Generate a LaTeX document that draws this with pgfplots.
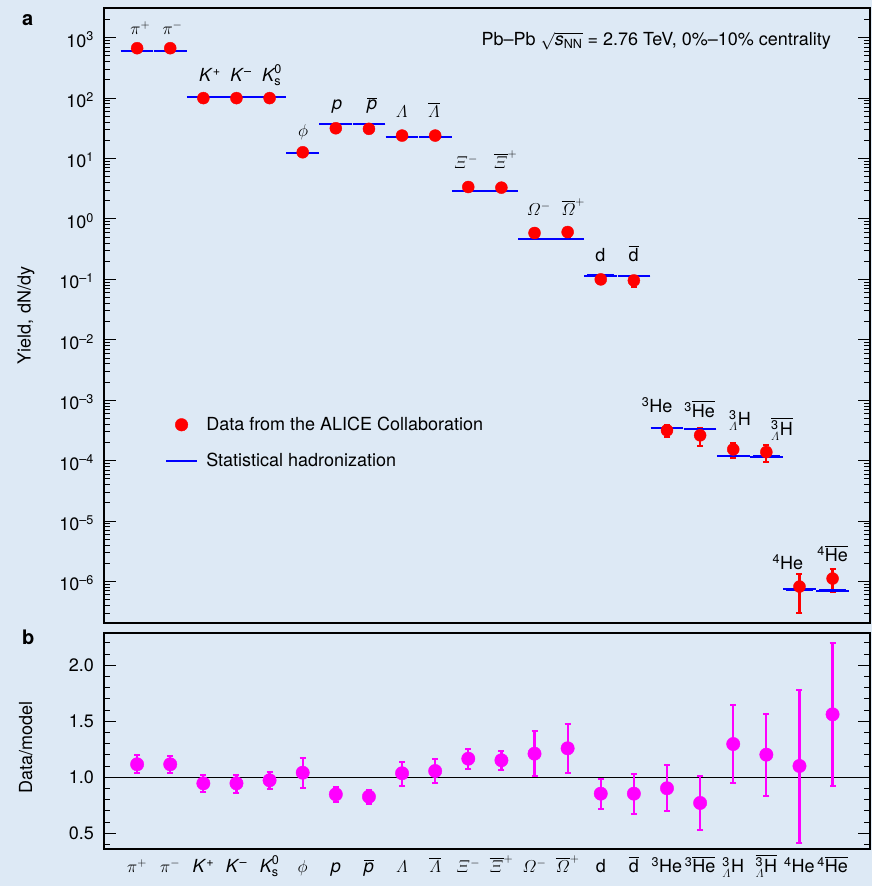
\documentclass[border=0pt]{standalone}
\usepackage{amsmath}
\usepackage{fontspec}
\setmainfont{TeX Gyre Heros}
\usepackage{pgfplots}
\usepackage{pgfplotstable}
\pgfplotsset{compat=1.18}

\definecolor{panelbg}{RGB}{221,233,245}
\definecolor{alicered}{RGB}{255,0,0}
\definecolor{ratiomag}{RGB}{255,0,255}
\definecolor{modelblue}{RGB}{0,0,255}

% measured yields (y, +err, -err) and statistical-hadronization model (m)
\pgfplotstableread{
i  y        ep       em       m
0  670      49       49       608
1  670      49       49       608
2  100      8        8        105
3  100      8        8        105
4  100      7.7      7.7      103
5  12.7     1.6      1.6      12.2
6  31.7     2.4      2.4      37
7  31.0     2.4      2.4      37
8  24.0     2.5      2.5      22.9
9  24.0     2.4      2.4      22.9
10 3.38     0.25     0.25     2.87
11 3.30     0.24     0.24     2.87
12 0.586    0.10     0.10     0.471
13 0.608    0.105    0.105    0.471
14 0.100    0.016    0.016    0.116
15 0.096    0.020    0.020    0.115
16 3.18e-4  0.72e-4  0.72e-4  3.47e-4
17 2.63e-4  0.84e-4  0.86e-4  3.39e-4
18 1.54e-4  0.42e-4  0.42e-4  1.18e-4
19 1.39e-4  0.43e-4  0.43e-4  1.17e-4
20 8.26e-7  5.0e-7   5.2e-7   7.4e-7
21 1.12e-6  0.49e-6  0.45e-6  7.1e-7
}\yields

% data/model ratios
\pgfplotstableread{
i  r      ep     em
0  1.116  0.083  0.080
1  1.116  0.077  0.080
2  0.946  0.077  0.075
3  0.946  0.077  0.083
4  0.973  0.074  0.075
5  1.041  0.129  0.134
6  0.848  0.063  0.068
7  0.827  0.060  0.068
8  1.036  0.103  0.111
9  1.056  0.105  0.110
10 1.166  0.087  0.089
11 1.152  0.083  0.087
12 1.211  0.205  0.202
13 1.259  0.214  0.218
14 0.854  0.134  0.140
15 0.854  0.176  0.182
16 0.902  0.205  0.206
17 0.771  0.238  0.244
18 1.297  0.346  0.348
19 1.202  0.366  0.366
20 1.101  0.681  0.688
21 1.562  0.640  0.637
}\ratios

% minor ticks 2..9 in every decade of the log axis
\def\logminors{}
\foreach \k in {-7,...,3}{\foreach \j in {2,...,9}{\xdef\logminors{\logminors\j e\k,}}}
\xdef\logminors{\logminors 1e4}

\pgfplotsset{
  panel/.style={
    scale only axis,
    xmin=-1, xmax=22.13,
    tick align=inside,
    major tick length=12bp, minor tick length=6bp,
    tick style={black, line width=1bp},
    axis line style={line width=1.5bp},
    yticklabel style={xshift=-4bp},
  },
  datadot legend/.style={legend image code/.code={\draw[##1] plot coordinates {(15.5bp,0bp)};}},
  modelbar legend/.style={legend image code/.code={\draw[##1] (0bp,0bp) -- (31bp,0bp);}},
}

\begin{document}
\fontsize{18bp}{21bp}\selectfont
\begin{tikzpicture}
\fill[panelbg] (0,0) rectangle (872bp,886bp);

% ---- panel a: yields ----
\begin{axis}[panel,
  at={(104bp,263bp)}, anchor=south west,
  width=766bp, height=615bp,
  ymode=log, log basis y=10,
  ymin=2.06e-7, ymax=3100,
  xtick=\empty,
  ytick={1e-6,1e-5,1e-4,1e-3,1e-2,1e-1,1,10,100,1000},
  minor ytick/.expanded={\logminors},
  yticklabel={\pgfmathtruncatemacro{\ex}{round(\tick)}10\textsuperscript{\ifnum\ex<0 \textendash\the\numexpr-\ex\relax\else\ex\fi}},
  yticklabel style={yshift=-2bp},
  ylabel={Yield, dN/dy},
  ylabel style={at={(axis description cs:-0.1018,0.5)}, anchor=center},
  legend cell align=left,
  legend style={at={(0.0796,0.339)}, anchor=north west, draw=none, fill=none,
    inner sep=0pt, row sep=16bp, column sep=6.3bp},
]
\addlegendimage{only marks, mark=*, mark size=6.3bp, alicered, datadot legend}
\addlegendentry{Data from the ALICE Collaboration}
\addlegendimage{modelblue, line width=1.8bp, modelbar legend}
\addlegendentry{Statistical hadronization}

\addplot[only marks, mark=*, mark size=6bp, alicered, forget plot,
  error bars/.cd, y dir=both, y explicit,
  error bar style={line width=2.2bp, alicered},
  error mark options={rotate=90, alicered, line width=2bp, mark size=3bp}]
  table[x=i, y=y, y error plus=ep, y error minus=em]{\yields};

\addplot[modelblue, draw=none, mark=none, forget plot,
  error bars/.cd, x dir=both, x fixed=0.41,
  error bar style={draw=modelblue, line width=2.2bp},
  error mark options={modelblue, line width=2bp, mark size=2.8bp}]
  table[x=i, y=m]{\yields};
\end{axis}

% ---- panel b: data/model ----
\begin{axis}[panel,
  at={(104bp,37bp)}, anchor=south west,
  width=766bp, height=216bp,
  ymin=0.36, ymax=2.288,
  xtick={0,...,21},
  xticklabels={$\pi^{+}$, $\pi^{-}$, \textit{K}\textsuperscript{+}, \textit{K}\textsuperscript{\textendash},
    $\textit{K}^{\text{0}}_{\text{s}}$, $\phi$, \textit{p}, $\overline{\textit{p}}$,
    $\varLambda$, $\overline{\varLambda}$, $\varXi^{-}$, $\overline{\varXi}^{+}$,
    $\varOmega^{-}$, $\overline{\varOmega}^{+}$, d, $\overline{\text{d}}$,
    \textsuperscript{3}He, \textsuperscript{3}$\overline{\text{He}}$,
    ${}^{\text{3}}_{\varLambda}\text{H}$, $\overline{{}^{\text{3}}_{\varLambda}\text{H}}$,
    \textsuperscript{4}He, \textsuperscript{4}$\overline{\text{He}}$},
  xtick style={draw=none},
  xticklabel style={anchor=base, yshift=-23.7bp},
  ytick={0.5,1,1.5,2},
  minor ytick={0.4,0.6,0.7,0.8,0.9,1.1,1.2,1.3,1.4,1.6,1.7,1.8,1.9,2.1,2.2},
  yticklabel style={/pgf/number format/fixed, /pgf/number format/fixed zerofill,
    /pgf/number format/precision=1, /pgf/number format/assume math mode=true},
  ylabel={Data/model},
  ylabel style={at={(axis description cs:-0.1021,0.47)}, anchor=center},
]
\addplot[black, line width=0.8bp, forget plot] coordinates {(-1,1) (22.13,1)};
\addplot[only marks, mark=*, mark size=6.7bp, ratiomag,
  error bars/.cd, y dir=both, y explicit,
  error bar style={line width=2.2bp, ratiomag},
  error mark options={rotate=90, ratiomag, line width=2bp, mark size=3bp}]
  table[x=i, y=r, y error plus=ep, y error minus=em]{\ratios};
\end{axis}

% panel letters and header
\node[anchor=base west, font=\fontsize{20bp}{24bp}\selectfont\bfseries] at (16bp,860bp) {a};
\node[anchor=base west, font=\fontsize{20bp}{24bp}\selectfont\bfseries] at (16bp,241bp) {b};
\node[anchor=base east] at (837bp,840.3bp)
  {Pb\textendash Pb $\sqrt{\textit{s}_{\text{NN}}}$ = 2.76 TeV, 0\%\textendash10\% centrality};

% particle names above the yields
\begin{scope}[every node/.style={anchor=base, inner sep=0pt}]
\node at (140.3bp,851bp) {$\pi^{+}$};
\node at (172.5bp,851bp) {$\pi^{-}$};
\node at (210bp,804.3bp) {\textit{K}\textsuperscript{+}};
\node at (241bp,804.3bp) {\textit{K}\textsuperscript{\textendash}};
\node at (272bp,804.3bp) {$\textit{K}^{\text{0}}_{\text{s}}$};
\node at (303bp,749.3bp) {$\phi$};
\node at (337bp,776bp) {\textit{p}};
\node at (372bp,776bp) {$\overline{\textit{p}}$};
\node at (401.7bp,768.7bp) {$\varLambda$};
\node at (434bp,768.7bp) {$\overline{\varLambda}$};
\node at (466bp,717.7bp) {$\varXi^{-}$};
\node at (505.5bp,717.7bp) {$\overline{\varXi}^{+}$};
\node at (538.7bp,670bp) {$\varOmega^{-}$};
\node at (573.3bp,670bp) {$\overline{\varOmega}^{+}$};
\node at (600.3bp,624.3bp) {d};
\node at (633.7bp,624.3bp) {$\overline{\text{d}}$};
\node at (657bp,473.3bp) {\textsuperscript{3}He};
\node at (699.7bp,468.7bp) {\textsuperscript{3}$\overline{\text{He}}$};
\node at (740bp,460bp) {${}^{\text{3}}_{\varLambda}\text{H}$};
\node at (782bp,450bp) {$\overline{{}^{\text{3}}_{\varLambda}\text{H}}$};
\node at (787.8bp,316.7bp) {\textsuperscript{4}He};
\node at (832.5bp,324.3bp) {\textsuperscript{4}$\overline{\text{He}}$};
\end{scope}

\pgfresetboundingbox
\path[use as bounding box] (0,0) rectangle (872bp,886bp);
\end{tikzpicture}
\end{document}
